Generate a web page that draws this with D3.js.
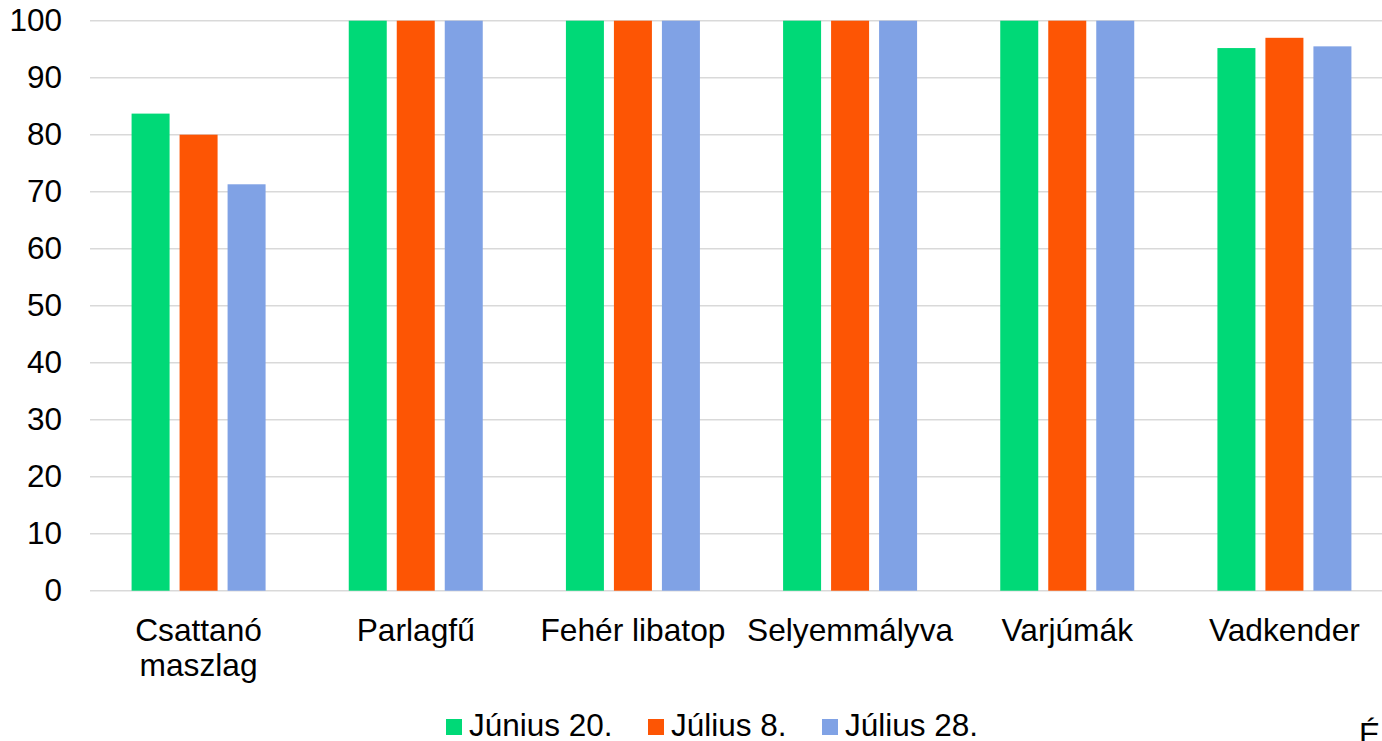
<!DOCTYPE html>
<html><head><meta charset="utf-8">
<script src="https://cdn.jsdelivr.net/npm/d3@7"></script>
<style>body{margin:0;background:#fff}svg{display:block}text{font-family:"Liberation Sans",Arial,sans-serif;fill:#000}</style>
</head><body><svg id="c" width="1382" height="741"></svg>
<script>
const categories = [["Csattanó","maszlag"],["Parlagfű"],["Fehér libatop"],["Selyemmályva"],["Varjúmák"],["Vadkender"]];
const seriesNames = ["Június 20.","Július 8.","Július 28."];
const junius20 = [83.7, 100, 100, 100, 100, 95.2];
const julius8  = [80.0, 100, 100, 100, 100, 97.0];
const julius28 = [71.3, 100, 100, 100, 100, 95.5];
const colors = ["#00d977","#fd5504","#80a2e5"];
const yTicks = [0,10,20,30,40,50,60,70,80,90,100];

const series = [junius20, julius8, julius28];
const svg = d3.select("#c");
const x = d3.scaleBand().domain(d3.range(categories.length)).range([90, 1393]).padding(0);
const y = d3.scaleLinear().domain([0,100]).range([590.7, 20.7]);
const barW = 38, barStep = 48;

// gridlines
svg.append("g").selectAll("line").data(yTicks).join("line")
  .attr("x1", 90).attr("x2", 1393)
  .attr("y1", d => y(d)).attr("y2", d => y(d))
  .attr("stroke", "#d9d9d9").attr("stroke-width", 1.5);

// y axis labels
const yAxis = d3.axisLeft(y).tickValues(yTicks).tickSize(0).tickPadding(28);
const ya = svg.append("g").attr("transform","translate(90,0)").call(yAxis);
ya.select(".domain").remove();
ya.selectAll("text").attr("font-size", 31.5).attr("font-family", '"Liberation Sans",Arial,sans-serif').attr("fill","#000");

// bars
series.forEach((vals, si) => {
  svg.append("g").selectAll("rect").data(vals).join("rect")
    .attr("x", (d,i) => x(i) + x.bandwidth()/2 - (barStep + barW/2) + si*barStep)
    .attr("width", barW)
    .attr("y", d => y(d))
    .attr("height", d => y(0) - y(d))
    .attr("fill", colors[si]);
});

// category labels
const cl = svg.append("g").selectAll("text").data(categories).join("text")
  .attr("x", (d,i) => x(i) + x.bandwidth()/2)
  .attr("y", 641)
  .attr("text-anchor","middle").attr("font-size",31.7);
cl.each(function(d){
  const t = d3.select(this);
  d.forEach((line, j) => t.append("tspan").attr("x", t.attr("x")).attr("dy", j === 0 ? 0 : 35).text(line));
});

// legend
const legX = [446, 648, 822];
const lg = svg.append("g").selectAll("g").data(seriesNames).join("g")
  .attr("transform", (d,i) => `translate(${legX[i]},0)`);
lg.append("rect").attr("x",0).attr("y",719).attr("width",16).attr("height",16).attr("fill",(d,i)=>colors[i]);
lg.append("text").attr("x",23).attr("y",736).attr("font-size",31.5).text(d=>d);

// cut-off character at bottom right
svg.append("text").attr("x",1359).attr("y",745).attr("font-size",31.5).text("É");
</script></body></html>
